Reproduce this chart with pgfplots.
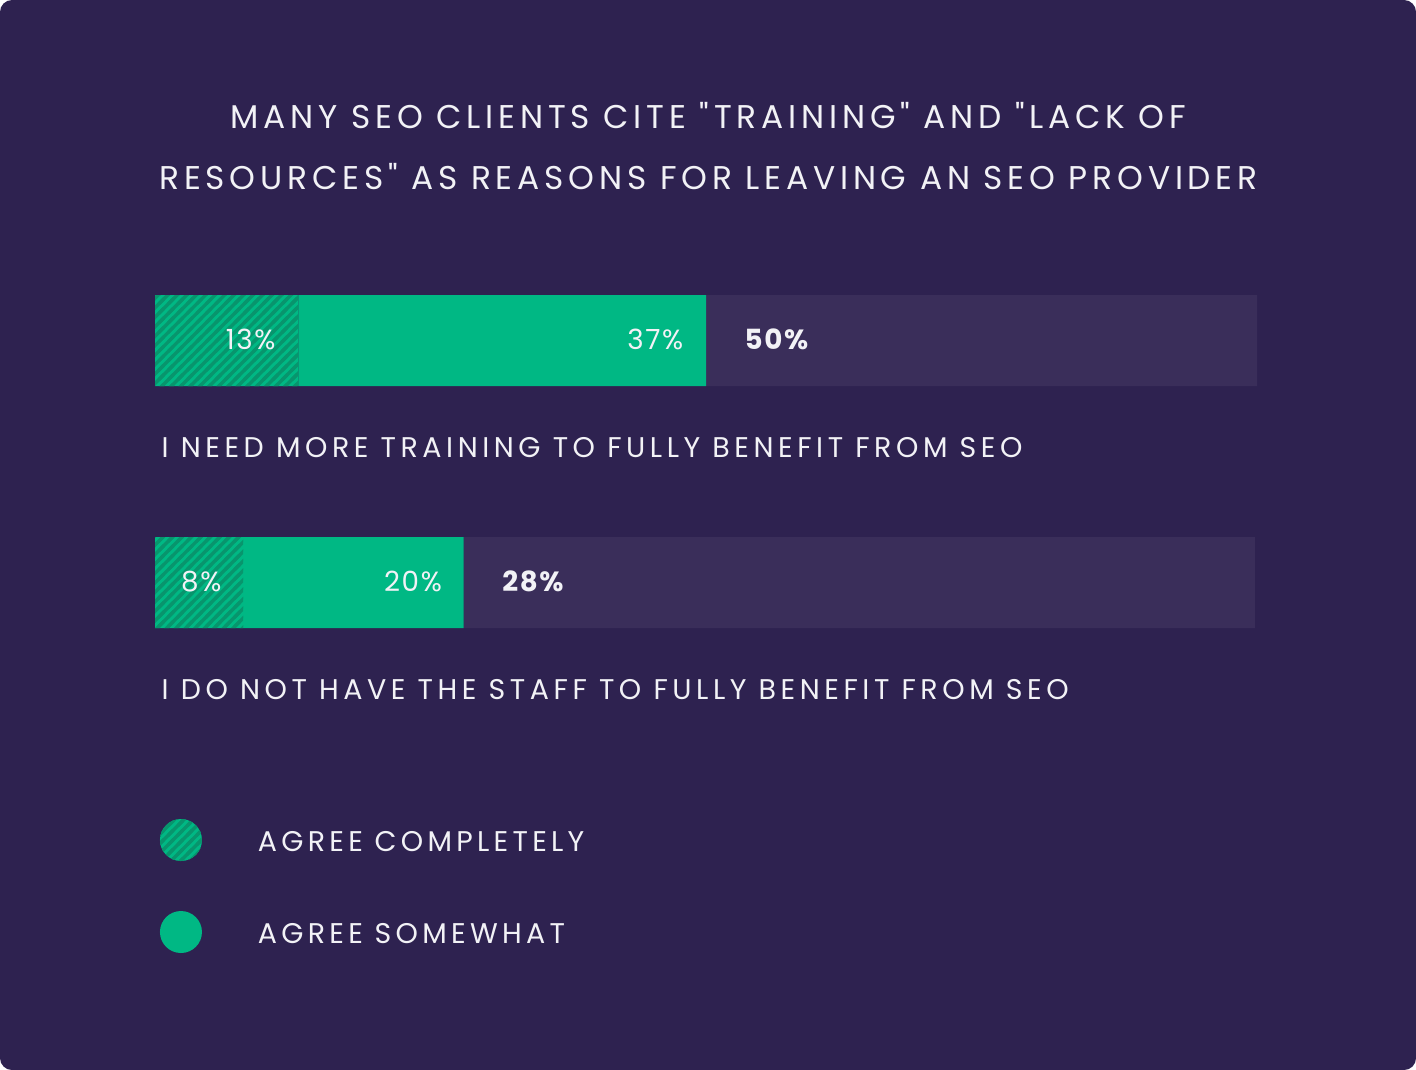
\documentclass[border=0pt]{standalone}
\usepackage{fontspec}
\setmainfont{Poppins}
\newfontfamily\titlefont{Poppins}[LetterSpace=14.6]
\newfontfamily\catfont{Poppins}[LetterSpace=16]
\newfontfamily\spaced{Poppins}[LetterSpace=15]
\newfontfamily\numfont{Poppins}[LetterSpace=6]
\usepackage{pgfplots}
\pgfplotsset{compat=1.18}
\usetikzlibrary{patterns}
\pgfdeclarepatternformonly{hatchlines}{\pgfpoint{-1pt}{-1pt}}{\pgfpoint{3.7pt}{3.7pt}}{\pgfpoint{2.7pt}{2.7pt}}{%
  \pgfsetlinewidth{0.95pt}%
  \pgfpathmoveto{\pgfpoint{-1pt}{-1pt}}%
  \pgfpathlineto{\pgfpoint{3.7pt}{3.7pt}}%
  \pgfusepath{stroke}}
\definecolor{bg}{HTML}{2E2250}
\definecolor{track}{HTML}{3A2E5A}
\definecolor{grn}{HTML}{00B884}
\definecolor{hatch}{HTML}{08956D}
\definecolor{txt}{HTML}{F2F2F6}
\tikzset{pct/.style={text=txt, inner sep=0pt, font=\fontsize{7.9}{10}\numfont}}
\pgfplotsset{dotlegend/.style={legend image code/.code={\fill[##1] (2.1mm,0.4mm) circle (2.1mm);}}}
\begin{document}
\begin{tikzpicture}[x=0.1mm,y=-0.1mm]
\fill[white] (0,0) rectangle (1416,1070);
\fill[bg, rounded corners=1.2mm] (0,0) rectangle (1416,1070);
\coordinate (axpos) at (155,628);
\node[anchor=base, text=txt, inner sep=0pt, font=\fontsize{9.35}{11}\titlefont] at (708.5,128) {MANY SEO CLIENTS CITE "TRAINING" AND "LACK OF};
\node[anchor=base, text=txt, inner sep=0pt, font=\fontsize{9.35}{11}\titlefont] at (708.5,189) {RESOURCES" AS REASONS FOR LEAVING AN SEO PROVIDER};
\node[anchor=base west, text=txt, inner sep=0pt, font=\fontsize{8.1}{10}\catfont] at (161,457) {I NEED MORE TRAINING TO FULLY BENEFIT FROM SEO};
\node[anchor=base west, text=txt, inner sep=0pt, font=\fontsize{8.1}{10}\catfont] at (161,699) {I DO NOT HAVE THE STAFF TO FULLY BENEFIT FROM SEO};
\begin{axis}[
  at={(axpos)}, anchor=south west,
  scale only axis, width=110.2mm, height=33.3mm,
  xmin=0, xmax=100, ymin=-0.188, ymax=1.188,
  hide axis, clip=false,
  xbar stacked, bar width=9.1mm, bar shift=0pt,
  legend style={at={(0.0045,-0.5736)}, anchor=north west, draw=none, fill=none,
    inner sep=0pt, outer sep=0pt, row sep=5mm, column sep=5.6mm,
    nodes={inner sep=0pt, text=txt, font=\fontsize{8.1}{10}\spaced},
    cells={anchor=west}},
]
\addplot[fill=grn, draw=none, postaction={pattern=hatchlines, pattern color=hatch}, dotlegend]
  coordinates {(13,1) (8,0)};
\addplot[fill=grn, draw=none, dotlegend]
  coordinates {(37,1) (20,0)};
\addplot[fill=track, draw=none] coordinates {(50,1) (71.8,0)};
\legend{AGREE COMPLETELY, AGREE SOMEWHAT}
\coordinate (a1) at (axis cs:13,1);
\coordinate (a2) at (axis cs:50,1);
\coordinate (b1) at (axis cs:8,0);
\coordinate (b2) at (axis cs:28,0);
\end{axis}
\node[pct, anchor=base east, xshift=-2.2mm, yshift=-0.85mm] at (a1) {13\%};
\node[pct, anchor=base east, xshift=-2.2mm, yshift=-0.85mm] at (a2) {37\%};
\node[pct, anchor=base west, xshift=3.8mm, yshift=-0.85mm] at (a2) {\bfseries 50\%};
\node[pct, anchor=base east, xshift=-2.1mm, yshift=-0.85mm] at (b1) {8\%};
\node[pct, anchor=base east, xshift=-2.1mm, yshift=-0.85mm] at (b2) {20\%};
\node[pct, anchor=base west, xshift=3.8mm, yshift=-0.85mm] at (b2) {\bfseries 28\%};
\end{tikzpicture}
\end{document}
